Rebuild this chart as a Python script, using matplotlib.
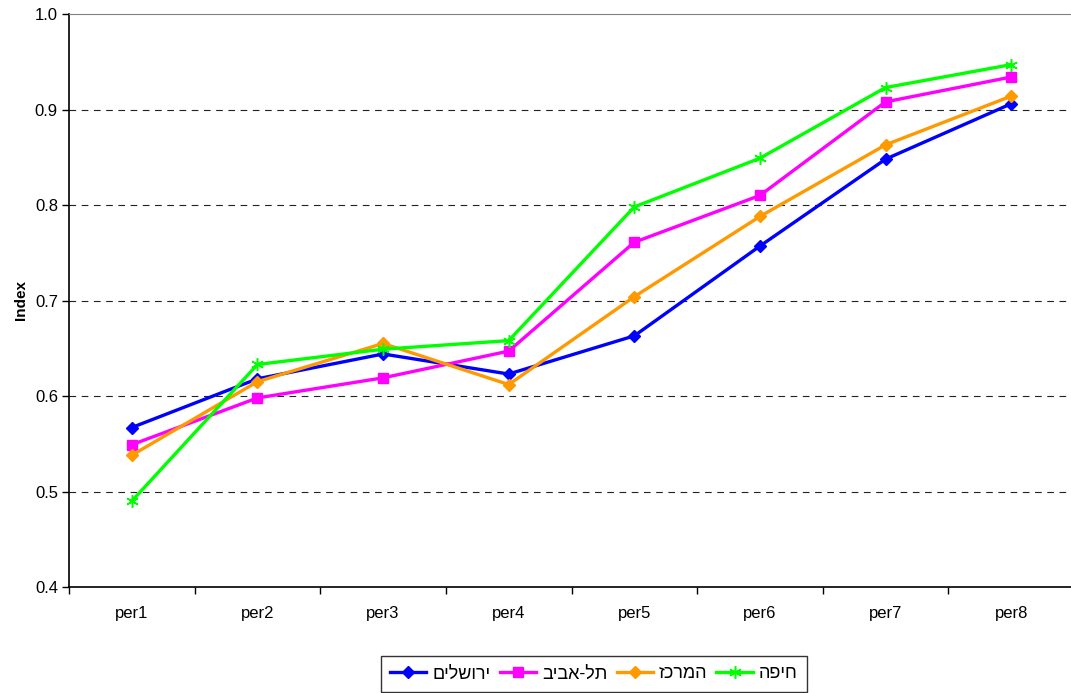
import matplotlib.pyplot as plt
from matplotlib.ticker import FormatStrFormatter

plt.rcParams['font.family'] = ['Liberation Sans', 'DejaVu Sans']

periods = ['per1', 'per2', 'per3', 'per4', 'per5', 'per6', 'per7', 'per8']
jerusalem = [0.567, 0.618, 0.644, 0.623, 0.663, 0.757, 0.848, 0.906]
tel_aviv = [0.549, 0.598, 0.619, 0.647, 0.761, 0.810, 0.908, 0.934]
center = [0.538, 0.615, 0.655, 0.612, 0.704, 0.788, 0.863, 0.914]
haifa = [0.490, 0.633, 0.649, 0.658, 0.798, 0.849, 0.923, 0.947]
names = ['ירושלים', 'תל-אביב', 'המרכז', 'חיפה']


def visual(s):
    # matplotlib has no bidi support, so feed Hebrew in visual order
    return s[::-1]


fig = plt.figure(figsize=(10.71, 6.93), dpi=100)
ax = fig.add_axes([69 / 1071, 106 / 693, 1005 / 1071, 573 / 693])

x = list(range(len(periods)))
ax.plot(x, jerusalem, color='#0000ff', lw=2.4, marker='D', ms=6.5, label=visual(names[0]))
ax.plot(x, tel_aviv, color='#ff00ff', lw=2.4, marker='s', ms=7, label=visual(names[1]))
ax.plot(x, center, color='#ff9900', lw=2.4, marker='D', ms=6.5, label=visual(names[2]))
ax.plot(x, haifa, color='#00ff00', lw=2.4, marker=(6, 2, 0), ms=9, mew=1.1, label=visual(names[3]))

ax.set_xlim(-0.5, 7.5)
ax.set_ylim(0.4, 1.0)
ax.set_yticks([0.4, 0.5, 0.6, 0.7, 0.8, 0.9, 1.0])
ax.yaxis.set_major_formatter(FormatStrFormatter('%.1f'))
ax.set_xticks(x)
ax.set_xticklabels(periods)
ax.set_xticks([i - 0.5 for i in range(9)], minor=True)
ax.tick_params(axis='x', which='major', length=0, pad=14, labelsize=12)
ax.tick_params(axis='x', which='minor', length=5, direction='out', width=1)
ax.tick_params(axis='y', length=5, direction='out', width=1, labelsize=12, pad=3)

for v in [0.5, 0.6, 0.7, 0.8, 0.9]:
    ax.axhline(v, color='#222222', lw=0.8, ls=(0, (6, 5)), zorder=0)

ax.spines['top'].set_color('#808080')
ax.spines['right'].set_color('#808080')
ax.spines['left'].set_linewidth(1.2)
ax.spines['bottom'].set_linewidth(1.2)

ax.set_ylabel('Index', fontweight='bold', fontsize=11, labelpad=5)

leg = fig.legend(loc='center', bbox_to_anchor=(594 / 1071, 1 - 674 / 693), ncol=4,
                 fontsize=13, frameon=True, fancybox=False, edgecolor='black',
                 handlelength=2.0, columnspacing=0.5, handletextpad=0.35,
                 borderpad=0.5, borderaxespad=0)
leg.get_frame().set_linewidth(1.0)

fig.savefig('out.png', dpi=100)
